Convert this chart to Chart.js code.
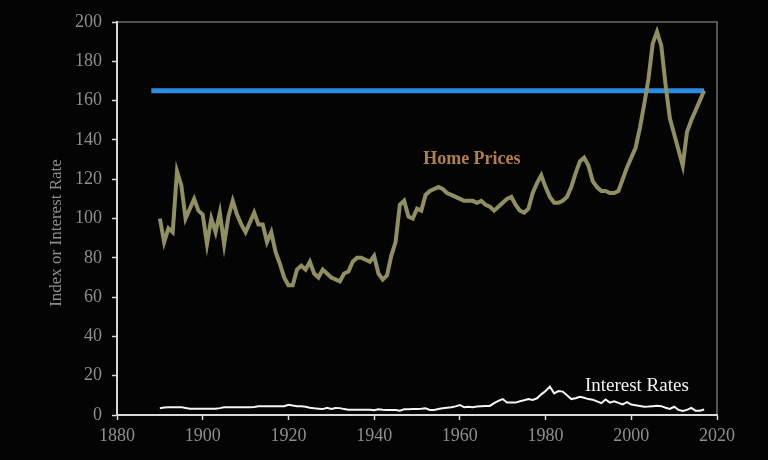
<!DOCTYPE html>
<html>
<head>
<meta charset="utf-8">
<script src="https://cdn.jsdelivr.net/npm/chart.js@4.4.1/dist/chart.umd.min.js"></script>
<style>
  html, body { margin: 0; padding: 0; background: #040404; }
  #wrap { width: 768px; height: 460px; position: relative; }
</style>
</head>
<body>
<div id="wrap"><canvas id="homeChart" width="768" height="460"></canvas></div>
<script>
// Years 1890..2017 (one reading per year)
const years = [
  1890, 1891, 1892, 1893, 1894, 1895, 1896, 1897, 1898, 1899,
  1900, 1901, 1902, 1903, 1904, 1905, 1906, 1907, 1908, 1909,
  1910, 1911, 1912, 1913, 1914, 1915, 1916, 1917, 1918, 1919,
  1920, 1921, 1922, 1923, 1924, 1925, 1926, 1927, 1928, 1929,
  1930, 1931, 1932, 1933, 1934, 1935, 1936, 1937, 1938, 1939,
  1940, 1941, 1942, 1943, 1944, 1945, 1946, 1947, 1948, 1949,
  1950, 1951, 1952, 1953, 1954, 1955, 1956, 1957, 1958, 1959,
  1960, 1961, 1962, 1963, 1964, 1965, 1966, 1967, 1968, 1969,
  1970, 1971, 1972, 1973, 1974, 1975, 1976, 1977, 1978, 1979,
  1980, 1981, 1982, 1983, 1984, 1985, 1986, 1987, 1988, 1989,
  1990, 1991, 1992, 1993, 1994, 1995, 1996, 1997, 1998, 1999,
  2000, 2001, 2002, 2003, 2004, 2005, 2006, 2007, 2008, 2009,
  2010, 2011, 2012, 2013, 2014, 2015, 2016, 2017
];

const homePrices = [
  100, 88, 95, 93, 124, 117, 100, 105, 110, 104,
  102, 87, 100, 93, 103, 87, 101, 109, 102, 97,
  93, 98, 103, 97, 97, 88, 93, 83, 77, 70,
  66, 66, 74, 76, 74, 78, 72, 70, 74, 72,
  70, 69, 68, 72, 73, 78, 80, 80, 79, 78,
  81, 72, 69, 71, 81, 88, 107, 109, 101, 100,
  105, 104, 112, 114, 115, 116, 115, 113, 112, 111,
  110, 109, 109, 109, 108, 109, 107, 106, 104, 106,
  108, 110, 111, 107, 104, 103, 105, 113, 118, 122,
  116, 111, 108, 108, 109, 111, 116, 123, 129, 131,
  127, 119, 116, 114, 114, 113, 113, 114, 120, 126,
  131, 136, 146, 158, 171, 189, 195, 188, 168, 151,
  143, 135, 127, 144, 150, 155, 160, 165
];

const interestRates = [
  3.4, 3.8, 4.0, 4.0, 4.0, 4.0, 3.6, 3.2, 3.2, 3.2,
  3.2, 3.2, 3.2, 3.2, 3.5, 3.9, 3.9, 3.9, 3.9, 3.9,
  3.9, 3.9, 4.1, 4.4, 4.4, 4.4, 4.4, 4.4, 4.4, 4.5,
  5.2, 4.8, 4.5, 4.4, 4.2, 3.7, 3.4, 3.2, 3.0, 3.7,
  3.1, 3.6, 3.5, 3.0, 2.7, 2.7, 2.7, 2.7, 2.7, 2.7,
  2.4, 2.9, 2.7, 2.6, 2.6, 2.5, 2.2, 2.9, 2.9, 3.0,
  3.1, 3.2, 3.4, 2.6, 2.6, 3.0, 3.4, 3.7, 3.9, 4.4,
  5.1, 3.9, 4.2, 4.0, 4.3, 4.5, 4.6, 4.6, 6.0, 7.2,
  8.1, 6.3, 6.3, 6.3, 7.0, 7.5, 8.1, 7.7, 8.5, 10.5,
  12.2, 14.5, 11.0, 12.2, 11.9, 10.0, 8.1, 8.5, 9.3, 8.8,
  8.1, 7.8, 6.9, 6.0, 7.9, 6.3, 7.0, 6.2, 5.4, 6.6,
  5.3, 5.0, 4.6, 4.2, 4.3, 4.5, 4.7, 4.5, 3.7, 3.1,
  4.2, 2.6, 2.0, 2.6, 3.6, 2.2, 2.2, 2.8
];

// Flat reference line (start year, end year, level)
const refYears = [1888, 2017];
const refLevel = 165;

const xTicks = [1880, 1900, 1920, 1940, 1960, 1980, 2000, 2020];
const yTicks = [0, 20, 40, 60, 80, 100, 120, 140, 160, 180, 200];

// Text labels placed in data units
const homeLabel = { text: 'Home Prices', x: 1962.8, y: 130 };
const rateLabel = { text: 'Interest Rates', x: 2001.3, y: 14.5 };
const yTitle = 'Index or Interest Rate';

const serif = '"Liberation Serif", "Times New Roman", serif';

function toPoints(xs, ys) {
  return xs.map((x, i) => ({ x: x, y: ys[i] }));
}

const frameAndLabels = {
  id: 'frameAndLabels',
  beforeDraw(chart) {
    const { ctx, chartArea: a } = chart;
    ctx.save();
    ctx.strokeStyle = '#6e6e6e';
    ctx.lineWidth = 1.5;
    ctx.strokeRect(a.left, a.top, a.right - a.left, a.bottom - a.top);

    // axis title, sits a little below the middle of the axis
    ctx.translate(57, 233);
    ctx.rotate(-Math.PI / 2);
    ctx.textAlign = 'center';
    ctx.textBaseline = 'middle';
    ctx.font = '17px ' + serif;
    ctx.fillStyle = '#8e8e8e';
    ctx.fillText(yTitle, 0, 0);
    ctx.restore();
  },
  afterDatasetsDraw(chart) {
    const { ctx, scales } = chart;
    ctx.save();
    ctx.textAlign = 'center';
    ctx.textBaseline = 'middle';
    ctx.font = 'bold 18px ' + serif;
    ctx.fillStyle = '#b0804c';
    ctx.fillText(homeLabel.text, scales.x.getPixelForValue(homeLabel.x), scales.y.getPixelForValue(homeLabel.y));
    ctx.font = '19px ' + serif;
    ctx.fillStyle = '#f2f2f2';
    ctx.fillText(rateLabel.text, scales.x.getPixelForValue(rateLabel.x), scales.y.getPixelForValue(rateLabel.y));
    ctx.restore();
  }
};

const tickFont = { family: serif, size: 18 };

new Chart(document.getElementById('homeChart'), {
  type: 'line',
  data: {
    datasets: [
      {
        label: 'Home Prices',
        data: toPoints(years, homePrices),
        borderColor: '#8f8f62',
        borderWidth: 4,
        pointRadius: 0,
        tension: 0
      },
      {
        label: 'Interest Rates',
        data: toPoints(years, interestRates),
        borderColor: '#f5f5f5',
        borderWidth: 2,
        pointRadius: 0,
        tension: 0
      },
      {
        label: 'Reference',
        data: refYears.map(x => ({ x: x, y: refLevel })),
        borderColor: '#2b8be2',
        borderWidth: 5,
        pointRadius: 0
      }
    ]
  },
  options: {
    responsive: false,
    maintainAspectRatio: false,
    animation: false,
    devicePixelRatio: 1,
    layout: { padding: { left: 0, right: 51, top: 22, bottom: 0 } },
    plugins: {
      legend: { display: false },
      tooltip: { enabled: false }
    },
    scales: {
      x: {
        type: 'linear',
        min: 1880,
        max: 2020,
        afterBuildTicks: s => { s.ticks = xTicks.map(v => ({ value: v })); },
        afterFit: s => { s.height = 45; },
        ticks: {
          color: '#8e8e8e',
          font: tickFont,
          padding: 5,
          maxRotation: 0,
          autoSkip: false,
          callback: v => String(v)
        },
        grid: {
          drawOnChartArea: false,
          drawTicks: true,
          tickLength: 5,
          tickColor: '#d8d8d8',
          tickWidth: 1.5
        },
        border: { display: true, color: '#d8d8d8', width: 2 }
      },
      y: {
        min: 0,
        max: 200,
        afterBuildTicks: s => { s.ticks = yTicks.map(v => ({ value: v })); },
        afterFit: s => { s.width = 117; },
        ticks: {
          color: '#8e8e8e',
          font: tickFont,
          padding: 10,
          autoSkip: false
        },
        grid: {
          drawOnChartArea: false,
          drawTicks: true,
          tickLength: 5,
          tickColor: '#d8d8d8',
          tickWidth: 1.5
        },
        border: { display: true, color: '#d8d8d8', width: 2 }
      }
    }
  },
  plugins: [frameAndLabels]
});
</script>
</body>
</html>
